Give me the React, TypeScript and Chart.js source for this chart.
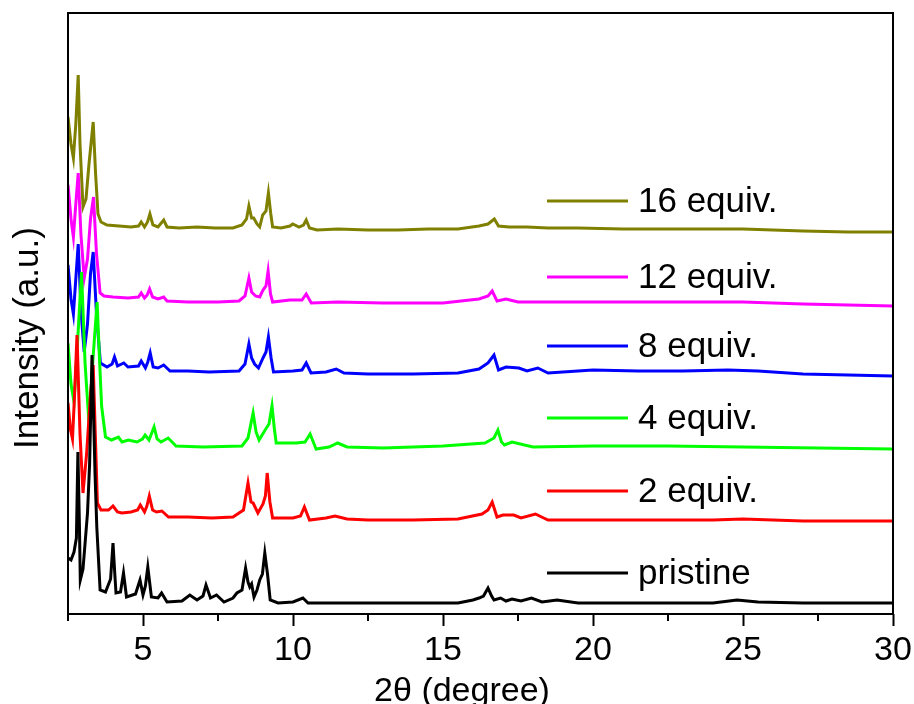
import React, { useEffect, useRef } from 'react';
import { Chart, registerables } from 'chart.js';

Chart.register(...registerables);

type Pt = [number, number];

const seriesLabels = ['pristine', '2 equiv.', '4 equiv.', '8 equiv.', '12 equiv.', '16 equiv.'];
const seriesColors = ['#000000', '#FF0000', '#00FF00', '#0000FF', '#FF00FF', '#808000'];

const pristine: Pt[] = [[2.5,56],[2.6,54],[2.7,62],[2.78,76],[2.83,162],[2.88,90],[2.91,34],[3.0,45],[3.15,101],[3.22,150],[3.3,259],[3.36,190],[3.4,141],[3.46,87],[3.57,24],[3.75,22],[3.92,35],[4.0,71],[4.06,40],[4.1,21],[4.25,22],[4.35,41],[4.45,17],[4.75,20],[4.9,34],[5.0,19],[5.08,28],[5.16,47],[5.28,17],[5.5,16],[5.62,21],[5.8,12],[6.3,13],[6.56,19],[6.8,14],[7.0,18],[7.1,29],[7.25,16],[7.45,19],[7.7,12],[8.0,16],[8.13,21],[8.3,24],[8.42,46],[8.5,32],[8.56,27],[8.62,30],[8.7,17],[8.8,24],[8.89,34],[8.98,40],[9.06,61],[9.15,40],[9.24,14],[9.5,11],[10.0,12],[10.33,16],[10.5,11],[11.5,11],[12.5,11],[14,11],[15.5,11],[16.0,14],[16.2,16],[16.35,18],[16.5,26],[16.62,18],[16.7,14],[16.92,16],[17.1,13],[17.3,15],[17.6,13],[17.95,16],[18.3,12],[18.8,14],[19.5,11],[20,11],[22,11],[24,11],[24.8,14],[25.5,12],[27,11],[30,11]];

const equiv2: Pt[] = [[2.5,211],[2.58,185],[2.65,175],[2.72,220],[2.8,279],[2.9,180],[3.0,121],[3.12,160],[3.25,220],[3.34,249],[3.42,170],[3.48,111],[3.6,104],[3.85,104],[4.0,108],[4.15,102],[4.3,101],[4.6,102],[4.82,104],[4.91,109],[5.05,102],[5.13,108],[5.21,118],[5.32,104],[5.45,102],[5.63,103],[5.85,97],[6.5,97],[7.3,96],[8.0,97],[8.2,101],[8.35,104],[8.5,131],[8.6,112],[8.67,111],[8.83,101],[9.0,110],[9.08,118],[9.14,141],[9.23,112],[9.32,96],[10.0,96],[10.25,98],[10.38,107],[10.55,94],[11.1,96],[11.4,98],[11.8,95],[12.5,94],[14,94],[15.5,95],[16.3,100],[16.5,104],[16.64,112],[16.8,97],[17.0,99],[17.36,99],[17.6,96],[18.08,100],[18.5,94],[20,94],[22,94],[24,94],[25,95],[27,93],[30,93]];

const equiv4: Pt[] = [[2.5,271],[2.6,230],[2.7,212],[2.8,262],[2.95,342],[3.07,250],[3.2,191],[3.32,250],[3.47,312],[3.55,255],[3.62,208],[3.75,177],[3.95,174],[4.18,177],[4.3,172],[4.51,174],[4.8,172],[4.98,175],[5.07,179],[5.2,174],[5.37,187],[5.47,175],[5.6,172],[5.84,176],[6.1,168],[7.0,167],[8.3,168],[8.5,176],[8.67,201],[8.77,182],[8.87,174],[9.05,183],[9.2,190],[9.3,208],[9.38,185],[9.44,171],[10.11,171],[10.4,172],[10.57,180],[10.77,165],[11.2,167],[11.49,171],[11.8,167],[13,166],[15,168],[16.4,171],[16.7,176],[16.83,184],[16.95,172],[17.05,169],[17.3,172],[18,167],[20,168],[22.5,168],[25,167],[27.5,166],[30,165]];

const equiv8: Pt[] = [[2.5,349],[2.6,315],[2.68,300],[2.76,335],[2.84,370],[2.94,300],[3.04,262],[3.15,290],[3.25,340],[3.34,362],[3.45,300],[3.58,251],[3.8,247],[3.97,250],[4.05,257],[4.15,248],[4.36,251],[4.5,247],[4.85,248],[4.94,253],[5.08,246],[5.16,252],[5.24,261],[5.34,247],[5.5,246],[5.69,249],[5.9,243],[6.5,243],[7.2,242],[8.2,243],[8.4,250],[8.53,270],[8.62,256],[8.72,250],[8.85,246],[9.0,256],[9.1,262],[9.18,277],[9.27,256],[9.35,242],[10.0,243],[10.3,244],[10.44,251],[10.6,241],[11.1,242],[11.44,245],[11.7,241],[12.5,240],[14,240],[15.5,241],[16.2,245],[16.5,251],[16.7,259],[16.85,244],[17.1,247],[17.53,246],[17.8,243],[18.16,246],[18.5,241],[19.5,243],[20,244],[21.5,243],[23,243],[24.5,244],[25.5,243],[27,240],[30,238]];

const equiv12: Pt[] = [[2.5,429],[2.6,395],[2.68,377],[2.76,410],[2.84,441],[2.93,380],[3.04,336],[3.15,355],[3.25,395],[3.35,417],[3.45,360],[3.57,321],[3.7,318],[4.0,317],[4.5,316],[4.85,317],[4.94,321],[5.05,316],[5.14,319],[5.22,325],[5.32,317],[5.5,315],[5.69,317],[5.8,313],[6.5,312],[7.5,312],[8.2,313],[8.4,318],[8.53,336],[8.62,322],[8.75,318],[8.89,317],[9.0,324],[9.1,328],[9.17,343],[9.25,320],[9.32,312],[9.9,314],[10.3,314],[10.44,320],[10.61,311],[11.5,312],[13,311],[15,311],[16.2,315],[16.5,318],[16.64,323],[16.8,313],[17.1,315],[17.5,312],[18.5,312],[20,312],[22.5,312],[25,312],[27,310],[30,308]];

const equiv16: Pt[] = [[2.5,497],[2.6,470],[2.68,456],[2.76,490],[2.84,539],[2.9,470],[3.0,407],[3.1,415],[3.2,450],[3.34,492],[3.42,440],[3.5,400],[3.6,392],[3.8,389],[4.2,388],[4.6,387],[4.85,388],[4.94,392],[5.05,387],[5.15,392],[5.23,400],[5.33,389],[5.5,387],[5.69,394],[5.8,387],[6.2,386],[6.8,387],[7.4,386],[8.0,386],[8.3,389],[8.45,395],[8.53,408],[8.62,396],[8.69,396],[8.8,390],[8.89,387],[8.99,399],[9.1,403],[9.18,421],[9.26,400],[9.32,387],[9.6,386],[9.9,388],[9.99,390],[10.2,387],[10.35,389],[10.44,394],[10.55,386],[10.8,384],[11.5,385],[12.5,384],[13.5,384],[14.5,385],[15.5,385],[16.2,388],[16.5,390],[16.71,395],[16.85,388],[17.2,387],[17.8,387],[18.5,386],[19.5,386],[21,385],[22.5,385],[24,385],[25,385],[26,384],[27,383],[28.5,382],[30,382]];

const allSeries: Pt[][] = [pristine, equiv2, equiv4, equiv8, equiv12, equiv16];

const xMin = 2.5;
const xMax = 30;
const xStep = 2.5;
const majorEvery = 5;

const FONT = '"Liberation Sans", Arial, sans-serif';

const decorPlugin = {
  id: 'decor',
  afterDraw(chart: any) {
    const { ctx, chartArea } = chart;
    const { left, right, top, bottom } = chartArea;
    const xs = chart.scales.x;
    const ys = chart.scales.y;
    ctx.save();
    ctx.strokeStyle = '#000';
    ctx.lineWidth = 2;
    ctx.strokeRect(left, top, right - left, bottom - top);
    for (let v = xMin; v <= xMax + 1e-9; v += xStep) {
      if (Math.abs(v % majorEvery) < 1e-9) continue;
      const px = xs.getPixelForValue(v);
      ctx.beginPath();
      ctx.moveTo(px, bottom);
      ctx.lineTo(px, bottom + 7);
      ctx.stroke();
    }
    const legendLevels = [41, 123, 196, 268, 337, 413];
    ctx.font = `35px ${FONT}`;
    ctx.textAlign = 'left';
    ctx.textBaseline = 'middle';
    chart.data.datasets.forEach((ds: any, i: number) => {
      const y = ys.getPixelForValue(legendLevels[i]);
      ctx.strokeStyle = ds.borderColor;
      ctx.lineWidth = 3;
      ctx.beginPath();
      ctx.moveTo(547, y);
      ctx.lineTo(628, y);
      ctx.stroke();
      ctx.fillStyle = '#000';
      ctx.fillText(ds.label, 638, y + 1);
    });
    ctx.fillStyle = '#000';
    ctx.font = `35px ${FONT}`;
    ctx.save();
    ctx.translate(28, 338);
    ctx.rotate(-Math.PI / 2);
    ctx.textAlign = 'center';
    ctx.textBaseline = 'middle';
    ctx.fillText('Intensity (a.u.)', 0, 0);
    ctx.restore();
    ctx.font = `34px ${FONT}`;
    ctx.textAlign = 'center';
    ctx.textBaseline = 'alphabetic';
    ctx.fillText('2\u03B8 (degree)', 462, 701);
    ctx.restore();
  },
};

export default function App() {
  const canvasRef = useRef<HTMLCanvasElement | null>(null);

  useEffect(() => {
    if (!canvasRef.current) return;
    const chart = new Chart(canvasRef.current, {
      type: 'line',
      data: {
        datasets: allSeries.map((s, i) => ({
          label: seriesLabels[i],
          data: s.map(([x, y]) => ({ x, y })),
          borderColor: seriesColors[i],
          backgroundColor: seriesColors[i],
          borderWidth: 3,
          pointRadius: 0,
          tension: 0,
          fill: false,
        })),
      },
      options: {
        responsive: false,
        animation: false,
        maintainAspectRatio: false,
        layout: { padding: { left: 68, right: 21, top: 13, bottom: 0 } },
        plugins: {
          legend: { display: false },
          tooltip: { enabled: false },
        },
        scales: {
          x: {
            type: 'linear',
            min: xMin,
            max: xMax,
            afterFit: (scale: any) => {
              scale.height = 90;
              scale.paddingLeft = 0;
              scale.paddingRight = 0;
            },
            border: { display: false },
            grid: {
              display: true,
              drawOnChartArea: false,
              drawTicks: true,
              tickLength: 12,
              tickWidth: 2,
              tickColor: (c: any) =>
                c.tick && Math.abs(c.tick.value % majorEvery) < 1e-9 ? '#000' : 'rgba(0,0,0,0)',
            },
            ticks: {
              stepSize: xStep,
              autoSkip: false,
              maxRotation: 0,
              minRotation: 0,
              padding: 4,
              color: '#000',
              font: { family: FONT, size: 34 },
              callback: (v: any) => (Math.abs(Number(v) % majorEvery) < 1e-9 ? String(v) : ''),
            },
          },
          y: {
            type: 'linear',
            display: false,
            min: 0,
            max: 601,
          },
        },
      },
      plugins: [decorPlugin],
    });
    return () => chart.destroy();
  }, []);

  return (
    <div style={{ position: 'absolute', left: 0, top: 0, width: 914, height: 704, background: '#fff' }}>
      <canvas ref={canvasRef} width={914} height={704} />
    </div>
  );
}
